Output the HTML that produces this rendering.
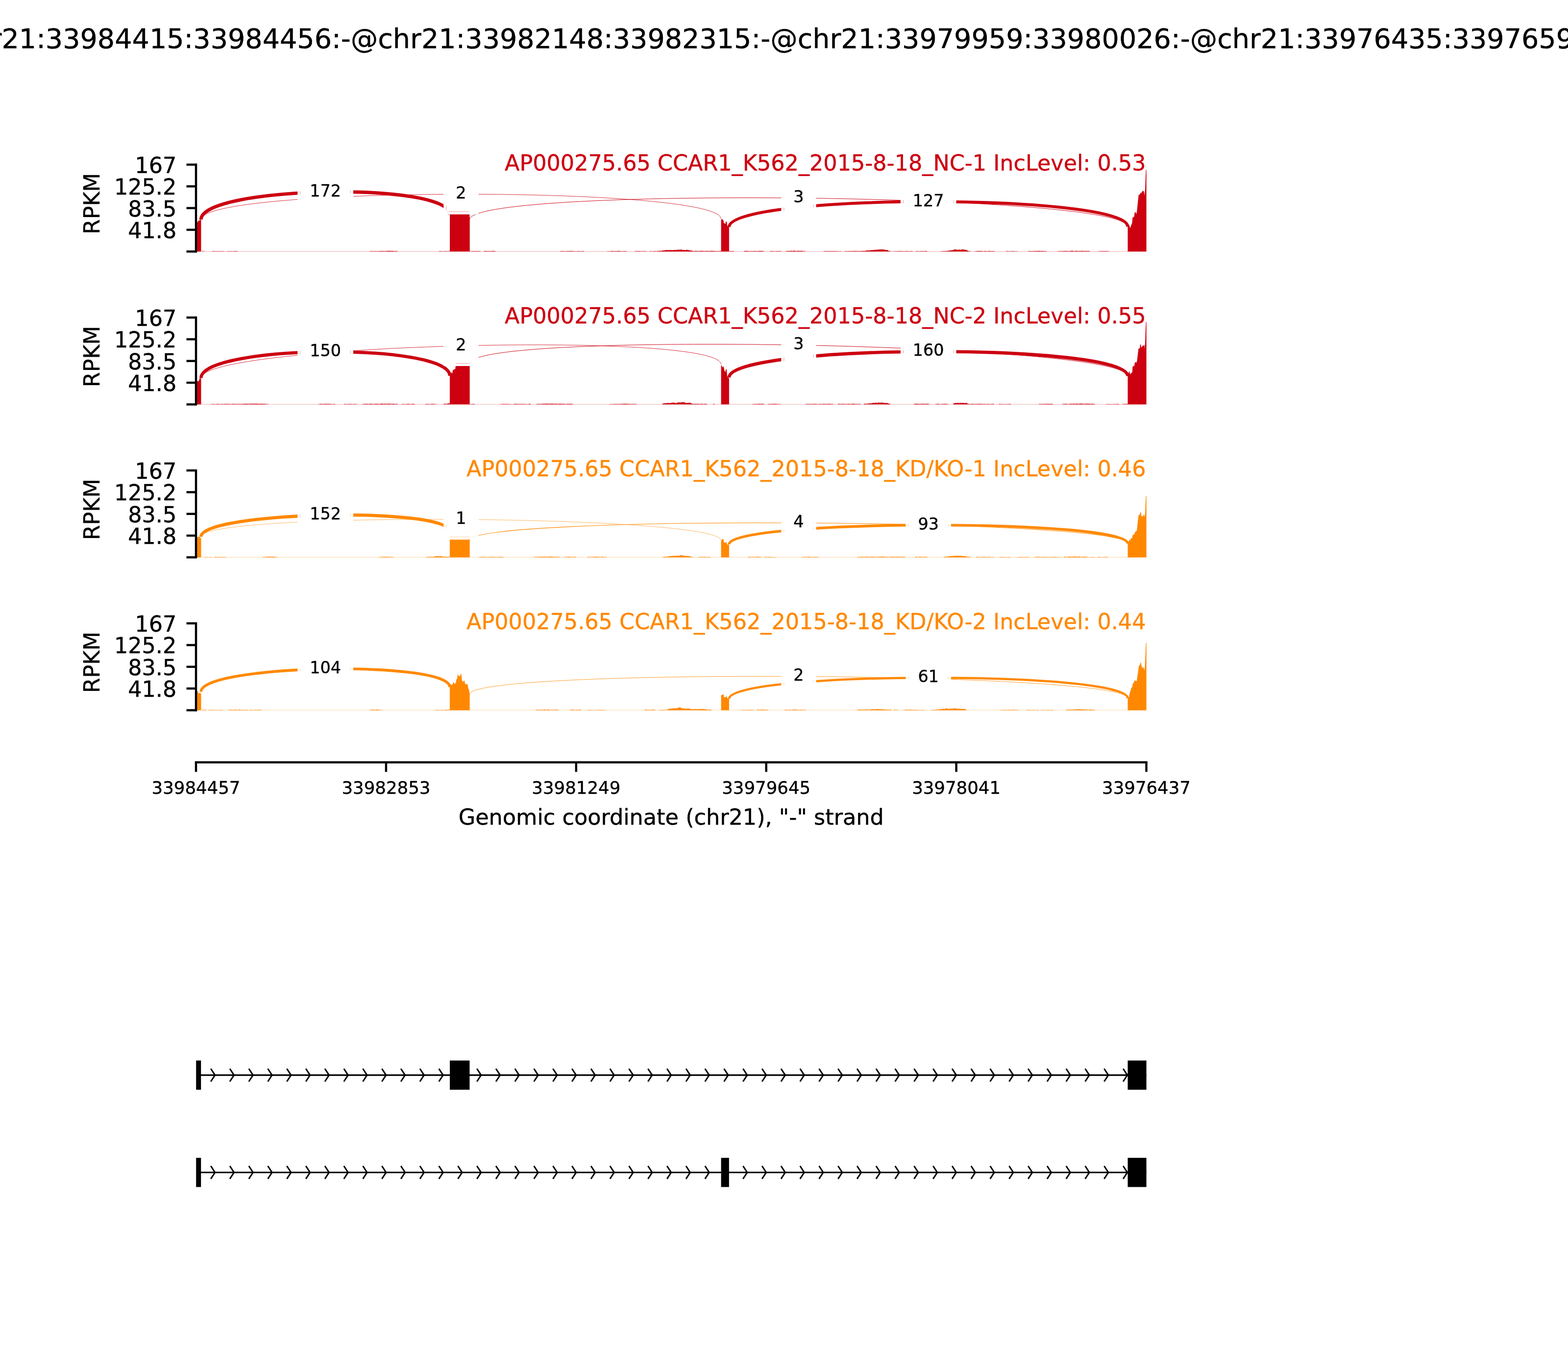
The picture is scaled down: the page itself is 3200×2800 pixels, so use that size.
<!DOCTYPE html>
<html lang="en"><head><meta charset="utf-8"><title>Sashimi plot</title>
<style>html,body{margin:0;padding:0;background:#fff}body{width:3200px;height:2800px;overflow:hidden}svg{display:block;font-family:'DejaVu Sans','Liberation Sans',sans-serif}text{stroke-linejoin:round}</style>
</head><body>
<svg width="3200" height="2800" viewBox="0 0 3200 2800" role="img" aria-label="Sashimi plot of RNA-seq read densities and splice junctions">
<rect width="3200" height="2800" fill="#fff"/>
<text transform="translate(1600 98.4) scale(1 1)" font-size="55.56" text-anchor="middle" fill="#000" stroke="#000" stroke-width="0.4">chr21:33984415:33984456:-@chr21:33982148:33982315:-@chr21:33979959:33980026:-@chr21:33976435:33976594:-</text>
<g id="panel1">
<g id="cov1">
<polygon points="400.2,513.3 400.2,455.5 402.3,454.3 404,451.5 405.5,449.9 406.7,450.6 407.7,448.7 409.6,448.7 410.4,449.5 410.4,513.3" fill="#CC0011"/>
<polygon points="918,513.3 918,438 918.8,428 957.6,428 958.7,446.5 958.7,513.3" fill="#CC0011"/>
<polygon points="1471.6,513.3 1471.6,447.9 1474.4,447.3 1475.4,449.2 1476.6,450 1477,453.9 1478.1,456.1 1480.9,456.3 1481.3,452.1 1482.8,452 1483.6,454.7 1484,460.2 1484.6,461.7 1485.2,463.1 1487.9,463.5 1487.9,513.3" fill="#CC0011"/>
<polygon points="2301.5,513.3 2301.5,462.7 2305,459.5 2306.2,465.8 2308.9,458.8 2310.5,454.8 2311.3,444.3 2314.4,442.3 2315.9,433 2318.3,433.8 2319.5,436.9 2320.6,427.5 2322.2,411.9 2323.8,397.8 2326.1,397 2327.7,393.1 2328.8,394.7 2330,392.3 2332.3,389.2 2334.7,390.8 2335.5,399.4 2337,386.9 2337.8,363.4 2338.6,347 2339.6,346.3 2339.6,513.3" fill="#CC0011"/>
<path d="M411.6,513.3V512.78 H415.6V512.84 H418V513.3Z M433,513.3V512.59 H437V512.82 H441V512.64 H445V512.7 H449V512.82 H453V512.65 H457V512.83 H458V513.3Z M463,513.3V512.68 H467V512.82 H471V512.81 H475V512.68 H479V512.52 H483V512.8 H486V513.3Z M753.6,513.3V512.81 H755.3V512.64 H757V512.5 H758.7V512.61 H760.4V512.66 H762.1V512.4 H763.8V512.77 H765.5V512.39 H767.2V512.62 H768.9V512.67 H770.6V512.67 H772.3V512.55 H774V512.27 H775.7V512.58 H777.4V512.34 H779.1V512.29 H780.8V512.38 H782.5V512.22 H784.2V512.48 H785.9V512.44 H787.6V512.3 H789.3V511.88 H791V512.02 H792.7V512.06 H794.4V511.8 H796.1V511.99 H797.8V512.19 H799.5V511.9 H801.2V512.06 H802.9V512.43 H804.6V512.31 H806.3V512.42 H808V512.34 H809.7V512.5 H811.4V512.73 H811.7V513.3Z M896,513.3V512.52 H900V512.8 H904V512.63 H908V512.42 H912V512.66 H916V512.45 H918V513.3Z M959.4,513.3V512.78 H963.4V512.53 H967.4V512.5 H971.4V512.6 H975.4V512.49 H979.4V512.72 H981V513.3Z M987.6,513.3V512.33 H991.6V512.39 H995.6V512.39 H999.6V512.46 H1003.6V512.26 H1007.6V512.21 H1010.9V513.3Z M1143,513.3V512.59 H1147V512.51 H1151V512.77 H1155V512.49 H1159V512.52 H1163V512.37 H1167V512.44 H1171V512.67 H1175V512.63 H1179V512.51 H1183V512.79 H1187V512.6 H1191V512.72 H1192.7V513.3Z M1239,513.3V512.72 H1243V512.71 H1247V512.3 H1251V512.59 H1255V512.48 H1259V512.37 H1263V512.16 H1267V512.65 H1271V512.51 H1275V512.53 H1279V513.3Z M1295.6,513.3V512.41 H1299.6V512.44 H1303.6V512.42 H1307.6V512.68 H1311.6V512.62 H1315.6V512.64 H1319.6V512.41 H1320.5V513.3Z M1325.5,513.3V512.54 H1327.2V512.79 H1328.9V512.75 H1330.6V512.69 H1332.3V512.65 H1334V512.49 H1335.7V512.39 H1337.4V512.52 H1339.1V512.63 H1340.8V512.35 H1342.5V512.34 H1344.2V512.17 H1345.9V511.8 H1347.6V511.87 H1349.3V511.91 H1351V511.17 H1352.7V510.99 H1354.4V511.31 H1356.1V510.53 H1357.8V510.47 H1359.5V510.24 H1361.2V510.16 H1362.9V510.4 H1364.6V510.35 H1366.3V510.6 H1368V510.03 H1369.7V510.56 H1371.4V510.52 H1373.1V510.33 H1374.8V510.31 H1376.5V509.97 H1378.2V510.17 H1379.9V510.11 H1381.6V509.79 H1383.3V509.72 H1385V509.33 H1386.7V509.9 H1388.4V508.96 H1390.1V509.43 H1391.8V510.11 H1393.5V510.12 H1395.2V510.11 H1396.9V510.15 H1398.6V510.47 H1400.3V509.79 H1402V509.73 H1403.7V510.31 H1405.4V510.49 H1407.1V511.06 H1408.8V511.25 H1410.5V511.3 H1412.2V512.14 H1413.9V511.89 H1415.6V512.38 H1417.3V512.48 H1419V511.84 H1420.7V512.13 H1422.4V512.39 H1424.1V512.12 H1425.8V512.47 H1427.5V512.13 H1429.2V511.82 H1430.9V511.9 H1432.6V512.01 H1434.3V512.31 H1436V512.24 H1437.7V512.38 H1439.4V511.96 H1441.1V512.14 H1442.8V511.99 H1444.5V512.3 H1446.2V512.38 H1447.9V512.01 H1449.6V511.92 H1451.3V512.02 H1453V512.06 H1454.7V512.07 H1456.4V512.13 H1458.1V512.46 H1459.8V512.3 H1461.5V512.41 H1463.2V512.61 H1464.9V512.62 H1466.6V512.48 H1468.3V512.5 H1470V512.26 H1471.6V513.3Z M1488,513.3V512.38 H1492V512.6 H1496V512.39 H1498V513.3Z M1518,513.3V512.15 H1522V512.1 H1526V512.39 H1530V512.43 H1534V512.38 H1538V512.36 H1542V512.4 H1546V512.19 H1550V512.09 H1554V512.2 H1558V512.44 H1559.6V513.3Z M1571,513.3V512.51 H1575V512.45 H1579V512.76 H1583V512.51 H1587V512.4 H1591V512.46 H1594.5V513.3Z M1604,513.3V512.28 H1605.7V512.37 H1607.4V512.5 H1609.1V512.09 H1610.8V512.32 H1612.5V511.96 H1614.2V511.78 H1615.9V512.15 H1617.6V512.1 H1619.3V511.61 H1621V511.74 H1622.7V512.16 H1624.4V512.21 H1626.1V512.23 H1627.8V511.68 H1629.5V511.81 H1631.2V512.35 H1632.9V511.91 H1634.6V511.87 H1636.3V512.14 H1638V512.38 H1639.7V512.31 H1641.4V512.59 H1643.1V512.68 H1644V513.3Z M1680.8,513.3V512.38 H1684.8V512.52 H1688.8V512.57 H1692.8V512.39 H1696.8V512.61 H1700.8V512.42 H1704.8V512.44 H1708.8V512.7 H1712.8V512.69 H1716.8V512.67 H1717V513.3Z M1723,513.3V512.69 H1724.7V512.52 H1726.4V512.65 H1728.1V512.56 H1729.8V512.68 H1731.5V512.29 H1733.2V512.54 H1734.9V512.48 H1736.6V512.39 H1738.3V512.21 H1740V512.45 H1741.7V512.16 H1743.4V512.37 H1745.1V512.34 H1746.8V512.32 H1748.5V512.6 H1750.2V512.34 H1751.9V512.48 H1753.6V512.58 H1755.3V512.07 H1757V512.45 H1758.7V512.24 H1760.4V511.99 H1762.1V512.02 H1763.8V512.12 H1765.5V511.89 H1767.2V511.22 H1768.9V510.95 H1770.6V511.32 H1772.3V510.88 H1774V511.01 H1775.7V510.89 H1777.4V510.36 H1779.1V510.48 H1780.8V510.32 H1782.5V509.99 H1784.2V509.65 H1785.9V509.97 H1787.6V509.62 H1789.3V509.57 H1791V509.39 H1792.7V508.99 H1794.4V509.14 H1796.1V509.05 H1797.8V509.29 H1799.5V508.87 H1801.2V509.35 H1802.9V509.32 H1804.6V509.44 H1806.3V510.33 H1808V510.19 H1809.7V510.2 H1811.4V510.76 H1813.1V512.25 H1814.8V512.5 H1816.5V512.6 H1818.2V512.93 H1819V513.3Z M1822.7,513.3V512.69 H1826.7V512.76 H1830.7V512.51 H1834.7V512.46 H1838.7V512.41 H1842.7V512.73 H1846.7V512.49 H1850.7V512.51 H1854.7V512.73 H1858.7V512.41 H1862.5V513.3Z M1869,513.3V512.38 H1873V512.7 H1877V512.38 H1881V512.62 H1885V512.59 H1889V512.37 H1892V513.3Z M1919,513.3V512.64 H1920.7V512.78 H1922.4V512.59 H1924.1V512.45 H1925.8V512.46 H1927.5V512.46 H1929.2V512.3 H1930.9V511.91 H1932.6V512.36 H1934.3V511.84 H1936V511.24 H1937.7V511.41 H1939.4V511.06 H1941.1V510.7 H1942.8V510.42 H1944.5V510.51 H1946.2V509.13 H1947.9V508.94 H1949.6V508.7 H1951.3V509.81 H1953V509.6 H1954.7V509.89 H1956.4V508.94 H1958.1V509.59 H1959.8V509.77 H1961.5V509.4 H1963.2V508.77 H1964.9V508.89 H1966.6V509.61 H1968.3V509.85 H1970V509.51 H1971.7V510.45 H1973.4V510.91 H1975.1V512.34 H1976.8V512.58 H1978.5V512.54 H1980.2V512.8 H1980.4V513.3Z M1988.7,513.3V512.66 H1992.7V512.21 H1996.7V512.37 H2000.7V512.28 H2004.7V512.65 H2008.7V512.25 H2012.7V512.66 H2016.7V512.25 H2020.7V512.46 H2024.7V512.52 H2028.7V512.41 H2030V513.3Z M2053,513.3V512.4 H2057V512.68 H2061V512.74 H2065V512.57 H2069V512.69 H2073V512.75 H2076.7V513.3Z M2098,513.3V512.58 H2102V512.59 H2106V512.44 H2110V512.3 H2114V512.24 H2118V511.95 H2122V512.35 H2126V512.28 H2130V512.54 H2134V512.5 H2136V513.3Z M2158,513.3V512.67 H2162V512.51 H2166V512.61 H2170V512.14 H2174V512.2 H2178V512.4 H2182V512.16 H2186V511.79 H2190V512.38 H2194V511.92 H2198V512.23 H2202V512.23 H2206V512.06 H2210V512.37 H2214V512.35 H2218V512.29 H2222V512.17 H2224V513.3Z M2241,513.3V512.65 H2245V512.44 H2249V512.49 H2253V512.52 H2257V512.62 H2261V512.65 H2264V513.3Z" fill="#CC0011"/>
<path d="M410.2,448.2 C410.2,379.8 918,369.6 918,438" fill="none" stroke="#CC0011" stroke-width="6.84"/>
<path d="M410.2,448.2 C410.2,379.8 1471.6,378.6 1471.6,447" fill="none" stroke="#CC0011" stroke-width="0.82"/>
<path d="M958.4,448.3 C958.4,379.9 2301.5,394.3 2301.5,462.7" fill="none" stroke="#CC0011" stroke-width="0.96"/>
<path d="M1487.8,463.5 C1487.8,394.83 2301.5,394.03 2301.5,462.7" fill="none" stroke="#CC0011" stroke-width="6.05"/>
</g>
<path d="M400,513.13 H2339.5" stroke="#CC0011" stroke-width="0.34" fill="none"/>
<rect x="607.3" y="350.6" width="113.6" height="82.4" fill="#fff"/>
<clipPath id="seam1_0"><path clip-rule="evenodd" d="M612.4,355.7 h103.4 v72.2 h-103.4 Z M613.4,356.7 h101.4 v70.2 h-101.4 Z"/></clipPath>
<use href="#cov1" clip-path="url(#seam1_0)" opacity="0.4"/>
<text transform="translate(664.1 400.75) scale(1 1)" font-size="33.33" text-anchor="middle" fill="#000" stroke="#000" stroke-width="0.4">172</text>
<rect x="905.3" y="355.1" width="71.2" height="82.4" fill="#fff"/>
<clipPath id="seam1_1"><path clip-rule="evenodd" d="M910.4,360.2 h61 v72.2 h-61 Z M911.4,361.2 h59 v70.2 h-59 Z"/></clipPath>
<use href="#cov1" clip-path="url(#seam1_1)" opacity="0.4"/>
<text transform="translate(940.9 405.25) scale(1 1)" font-size="33.33" text-anchor="middle" fill="#000" stroke="#000" stroke-width="0.4">2</text>
<rect x="1594.35" y="363" width="71.2" height="82.4" fill="#fff"/>
<clipPath id="seam1_2"><path clip-rule="evenodd" d="M1599.45,368.1 h61 v72.2 h-61 Z M1600.45,369.1 h59 v70.2 h-59 Z"/></clipPath>
<use href="#cov1" clip-path="url(#seam1_2)" opacity="0.4"/>
<text transform="translate(1629.95 413.15) scale(1 1)" font-size="33.33" text-anchor="middle" fill="#000" stroke="#000" stroke-width="0.4">3</text>
<rect x="1837.85" y="370.4" width="113.6" height="82.4" fill="#fff"/>
<clipPath id="seam1_3"><path clip-rule="evenodd" d="M1842.95,375.5 h103.4 v72.2 h-103.4 Z M1843.95,376.5 h101.4 v70.2 h-101.4 Z"/></clipPath>
<use href="#cov1" clip-path="url(#seam1_3)" opacity="0.4"/>
<text transform="translate(1894.65 420.55) scale(1 1)" font-size="33.33" text-anchor="middle" fill="#000" stroke="#000" stroke-width="0.4">127</text>
<text transform="translate(2338.5 348.3) scale(1 1)" font-size="44.48" text-anchor="end" fill="#CC0011" stroke="#CC0011" stroke-width="0.4">AP000275.65 CCAR1_K562_2015-8-18_NC-1 IncLevel: 0.53</text>
<path d="M400,333.78 V515.52" stroke="#000" stroke-width="4.44" fill="none"/>
<path d="M380.56,336 H400" stroke="#000" stroke-width="4.44" fill="none"/>
<text transform="translate(360.2 353) scale(1 1)" font-size="44.44" text-anchor="end" fill="#000" stroke="#000" stroke-width="0.4">167</text>
<path d="M380.56,380.32 H400" stroke="#000" stroke-width="4.44" fill="none"/>
<text transform="translate(360.2 397.32) scale(1 1)" font-size="44.44" text-anchor="end" fill="#000" stroke="#000" stroke-width="0.4">125.2</text>
<path d="M380.56,424.65 H400" stroke="#000" stroke-width="4.44" fill="none"/>
<text transform="translate(360.2 441.65) scale(1 1)" font-size="44.44" text-anchor="end" fill="#000" stroke="#000" stroke-width="0.4">83.5</text>
<path d="M380.56,468.98 H400" stroke="#000" stroke-width="4.44" fill="none"/>
<text transform="translate(360.2 485.98) scale(1 1)" font-size="44.44" text-anchor="end" fill="#000" stroke="#000" stroke-width="0.4">41.8</text>
<path d="M380.56,513.3 H400" stroke="#000" stroke-width="4.44" fill="none"/>
<text transform="translate(203.2 478.2) rotate(-90) scale(1 1)" font-size="44.44" fill="#000" stroke="#000" stroke-width="0.4">RPKM</text>
</g>
<g id="panel2">
<g id="cov2">
<polygon points="400.2,825.35 400.2,780.5 402,779.3 403.5,777.1 404.4,778.1 405.5,777.8 406.4,775.2 407.6,772.3 408.8,772 410.4,773.4 410.4,825.35" fill="#CC0011"/>
<polygon points="917.9,825.35 917.9,766.8 921.9,758.9 923,763.2 924.1,755.2 929.2,753 931,738 958.6,738 958.6,825.35" fill="#CC0011"/>
<polygon points="1471.6,825.35 1471.6,745.5 1473.4,746.4 1474.2,749.5 1475.8,749.1 1476.6,746 1477,749.9 1477.7,751.5 1478.5,756.5 1480.5,759.1 1481.3,754.2 1482.4,752.2 1483.2,757.3 1484,767.1 1485.2,770.2 1486.3,771.8 1487.9,770.6 1487.9,825.35" fill="#CC0011"/>
<polygon points="2301.5,825.35 2301.5,767.6 2304.2,758.3 2305.4,758.3 2306.2,764.9 2307.3,762.2 2308.9,761.4 2310.9,759 2311.3,749.3 2313.6,745.8 2314.4,748.9 2316.3,738.7 2317.5,740.3 2318.3,737.9 2319.5,741.1 2320.6,735.6 2322.2,722.3 2323.4,712.2 2324.5,710.2 2326.1,711.4 2326.9,702.8 2328.4,703.6 2329.2,709.8 2331.6,705.9 2333.9,705.1 2335.5,704.3 2335.6,712.9 2337,700.4 2337.8,675.4 2338.6,657.5 2339.6,656.7 2339.6,825.35" fill="#CC0011"/>
<path d="M430,825.35V824.82 H431.7V824.78 H433.4V824.8 H435.1V824.48 H436.8V824.7 H438.5V824.73 H440.2V824.76 H441.9V824.39 H443.6V824.36 H445.3V824.45 H447V824.63 H448.7V824.64 H450.4V824.6 H452.1V824.51 H453.8V824.66 H455.5V824.5 H457.2V824.58 H458.9V824.2 H460.6V824.18 H462.3V824.4 H464V824.56 H465.7V824.14 H467.4V824.5 H469.1V824.47 H470.8V824.67 H472.5V824.43 H474.2V824.37 H475.9V824.34 H477.6V824.51 H479.3V824.32 H481V824.62 H482.7V824.45 H484.4V824.55 H486.1V824.34 H487.8V824.57 H489.5V824.57 H491.2V824.38 H492.9V824.42 H494.6V824.17 H496.3V824.2 H498V824.03 H499.7V824.08 H501.4V824 H503.1V823.85 H504.8V824.18 H506.5V824.2 H508.2V823.65 H509.9V824.29 H511.6V823.79 H513.3V823.82 H515V824.31 H516.7V823.65 H518.4V823.64 H520.1V823.9 H521.8V823.84 H523.5V823.82 H525.2V824.36 H526.9V824.1 H528.6V824.15 H530.3V823.95 H532V824.01 H533.7V824.03 H535.4V824.22 H537.1V824.06 H538.8V824.22 H540.5V824.25 H542.2V824.55 H543.9V824.69 H545.6V824.65 H547.3V824.55 H548V825.35Z M649,825.35V824.77 H653V824.36 H657V824.43 H661V824.32 H665V824.28 H669V824.32 H673V824.49 H677V824.79 H681V824.47 H684V825.35Z M702,825.35V824.52 H706V824.63 H710V824.61 H714V824.56 H718V824.82 H722V824.53 H726V824.74 H729V825.35Z M739,825.35V824.7 H740.7V824.58 H742.4V824.31 H744.1V824.58 H745.8V824.26 H747.5V824.1 H749.2V824.36 H750.9V824.4 H752.6V824.33 H754.3V824.18 H756V824.1 H757.7V824.17 H759.4V824.14 H761.1V824.5 H762.8V824.44 H764.5V824.34 H766.2V823.97 H767.9V824.27 H769.6V824.06 H771.3V824.46 H773V824.41 H774.7V824.23 H776.4V823.89 H778.1V823.85 H779.8V823.84 H781.5V824.14 H783.2V823.93 H784.9V823.96 H786.6V823.95 H788.3V824.28 H790V823.68 H791.7V824.27 H793.4V823.71 H795.1V823.79 H796.8V824.5 H798.5V824.22 H800.2V824.02 H801.9V823.97 H803.6V824.34 H805.3V824.49 H807V824.56 H808.7V824.18 H810.4V824.62 H812V825.35Z M820,825.35V824.58 H824V824.75 H828V824.54 H832V824.29 H836V824.67 H840V824.28 H844V824.42 H846.5V825.35Z M868,825.35V824.44 H872V824.48 H876V824.67 H880V824.3 H884V824.47 H888V824.69 H891V825.35Z M904.6,825.35V824.52 H906.3V824.12 H908V824.1 H909.7V824.17 H911.4V824.25 H913.1V823.43 H914.8V823.38 H916.5V822.95 H918V825.35Z M959.4,825.35V824.85 H963.4V824.52 H967.4V824.48 H969V825.35Z M1021,825.35V824.79 H1025V824.45 H1029V824.54 H1033V824.46 H1037V824.72 H1041V824.69 H1044V825.35Z M1047,825.35V824.54 H1051V824.21 H1055V824.42 H1059V824.53 H1063V824.49 H1067V824.56 H1071V824.68 H1075V824.65 H1079V824.23 H1083V825.35Z M1095,825.35V824.58 H1096.7V824.19 H1098.4V824.54 H1100.1V824.5 H1101.8V824.32 H1103.5V824.49 H1105.2V824.34 H1106.9V823.92 H1108.6V823.92 H1110.3V823.93 H1112V824.02 H1113.7V823.77 H1115.4V823.7 H1117.1V823.97 H1118.8V823.8 H1120.5V824.32 H1122.2V823.71 H1123.9V823.97 H1125.6V823.73 H1127.3V823.85 H1129V824.16 H1130.7V824.37 H1132.4V823.68 H1134.1V824.33 H1135.8V824.08 H1137.5V824.2 H1139.2V824.25 H1140.9V823.94 H1142.6V823.78 H1144.3V824.32 H1146V824.06 H1147.7V824.33 H1149.4V824.17 H1151.1V824.3 H1152.8V824.46 H1154.5V824.48 H1156.2V824.47 H1157.9V824.04 H1159.6V824.32 H1161.3V824.5 H1163V824.11 H1164.7V824.08 H1166.4V824.42 H1168.1V824.61 H1169.5V825.35Z M1244,825.35V824.63 H1248V824.65 H1252V824.47 H1256V824.58 H1260V824.45 H1264V824.4 H1268V824.15 H1272V823.98 H1276V824.12 H1280V824.37 H1284V824.41 H1288V824.38 H1292V824.5 H1296V824.56 H1299V825.35Z M1352,825.35V823.58 H1353.7V823.31 H1355.4V822.68 H1357.1V823.2 H1358.8V822.77 H1360.5V822.54 H1362.2V822.19 H1363.9V822.66 H1365.6V822.49 H1367.3V822.4 H1369V822.12 H1370.7V821.94 H1372.4V821.43 H1374.1V821.66 H1375.8V821.76 H1377.5V822.72 H1379.2V822.79 H1380.9V821.82 H1382.6V821.29 H1384.3V821.49 H1386V821.04 H1387.7V821.58 H1389.4V821.16 H1391.1V820.6 H1392.8V820.92 H1394.5V821.06 H1396.2V821.11 H1397.9V822.11 H1399.6V822.39 H1401.3V822.42 H1403V822.11 H1404.7V822.03 H1406.4V821.86 H1408.1V822.33 H1409.8V823.11 H1411.5V824.02 H1413.2V824.23 H1414.9V824.17 H1416.6V824.53 H1418.3V824.02 H1420V824.4 H1421.7V823.94 H1423.4V824.13 H1425.1V824.36 H1426.8V824.48 H1428.5V824.4 H1430.2V824.15 H1431.9V824.11 H1433.6V824.51 H1435.3V824.54 H1437V824.24 H1438.7V824.21 H1440.4V824.34 H1442.1V824.45 H1443V825.35Z M1455,825.35V824.59 H1459V825.35Z M1534.7,825.35V824.74 H1538.7V824.57 H1542.7V824.48 H1546.7V824.2 H1550.7V824.35 H1554.7V824.21 H1558.7V824.43 H1559.6V825.35Z M1568,825.35V824.62 H1572V824.6 H1576V824.21 H1580V824.33 H1584V824.54 H1588V824.69 H1592V824.42 H1593V825.35Z M1644,825.35V824.39 H1648V824.52 H1652V824.6 H1656V824.38 H1660V824.24 H1664V824.6 H1668V824.7 H1672V824.54 H1676V824.49 H1680V824.34 H1684V824.6 H1688V824.26 H1692V824.29 H1696V824.41 H1700V824.58 H1700.7V825.35Z M1710,825.35V824.14 H1714V824.5 H1718V824.2 H1722V824.53 H1726V824.52 H1730V824.19 H1734V824.46 H1738V824.04 H1742V824.31 H1746V824.49 H1750V824.46 H1754V824.33 H1756V825.35Z M1763,825.35V824.12 H1764.7V823.83 H1766.4V824.34 H1768.1V824.08 H1769.8V824.16 H1771.5V822.92 H1773.2V823.38 H1774.9V823.35 H1776.6V823.25 H1778.3V822.88 H1780V822.35 H1781.7V822.23 H1783.4V822.25 H1785.1V821.88 H1786.8V821.8 H1788.5V822.28 H1790.2V822.31 H1791.9V821.36 H1793.6V821.43 H1795.3V822.16 H1797V821.26 H1798.7V821.52 H1800.4V821.69 H1802.1V821.9 H1803.8V822.24 H1805.5V822.57 H1807.2V822.44 H1808.9V822.57 H1810.6V822.48 H1812.3V823.51 H1814V823.8 H1815.7V824.59 H1817.4V824.67 H1817.7V825.35Z M1865.8,825.35V824.09 H1869.8V823.97 H1873.8V824.14 H1877.8V824.36 H1881.8V824.08 H1885.8V824.24 H1889.8V823.94 H1893.8V824.5 H1897.4V825.35Z M1909,825.35V824.55 H1913V824.26 H1917V824.71 H1921V824.5 H1925V824.27 H1929V824.28 H1933V824.67 H1935.6V825.35Z M1945.5,825.35V822.96 H1947.2V822.92 H1948.9V822.12 H1950.6V822.71 H1952.3V822.23 H1954V822.07 H1955.7V822.58 H1957.4V822.62 H1959.1V821.95 H1960.8V822.26 H1962.5V822.58 H1964.2V822.12 H1965.9V822.49 H1967.6V822.51 H1969.3V822.76 H1971V822 H1972.7V822.77 H1974.4V824.28 H1976.1V824.17 H1977.8V824.68 H1979.5V824.57 H1981.2V824.44 H1982.9V824.17 H1984.6V824.18 H1986.3V824.49 H1988V824.57 H1989.7V824.47 H1991.4V824.44 H1993.1V824.21 H1994.8V824.61 H1996.5V824.28 H1998.2V824.32 H1999.9V824.27 H2001.6V824.3 H2003.3V824.4 H2005V824.55 H2006.7V824.55 H2008.4V824.53 H2010.1V824.31 H2011.8V824.69 H2013.5V824.63 H2015.2V824.34 H2016.9V824.6 H2018.6V824.7 H2020.3V824.72 H2022V824.45 H2023.7V824.57 H2025.4V824.23 H2027.1V824.29 H2028.5V825.35Z M2038.5,825.35V824.42 H2042.5V824.73 H2046.5V824.81 H2050.5V824.8 H2054.5V824.63 H2058.5V824.54 H2062.5V824.65 H2063.4V825.35Z M2119.8,825.35V824.62 H2123.8V824.52 H2127.8V824.4 H2131.8V824.36 H2135.8V824.31 H2139.8V824.24 H2143.8V824.33 H2147.8V824.63 H2149.7V825.35Z M2168,825.35V824.13 H2169.7V824.44 H2171.4V824.26 H2173.1V824.36 H2174.8V824.11 H2176.5V824.45 H2178.2V824.4 H2179.9V824.39 H2181.6V824.44 H2183.3V823.91 H2185V824.11 H2186.7V824.27 H2188.4V824.2 H2190.1V823.75 H2191.8V824.09 H2193.5V824.28 H2195.2V823.82 H2196.9V823.92 H2198.6V823.64 H2200.3V824.33 H2202V824.01 H2203.7V823.71 H2205.4V823.67 H2207.1V823.59 H2208.8V824.32 H2210.5V824.09 H2212.2V824.27 H2213.9V824.23 H2215.6V823.63 H2217.3V823.98 H2219V823.74 H2220.7V824.2 H2222.4V823.87 H2224.1V824.2 H2225.8V824.36 H2227.5V824.04 H2229.2V823.97 H2230.9V824.54 H2232.6V824.27 H2234.3V824.27 H2234.4V825.35Z M2257.6,825.35V824.75 H2261.6V824.69 H2265.6V824.78 H2269.6V824.76 H2273.6V824.74 H2277.6V824.59 H2281.6V824.56 H2284V825.35Z M2290.8,825.35V824.5 H2294.8V824.58 H2298.8V824.33 H2301.4V825.35Z" fill="#CC0011"/>
<path d="M410.2,771.7 C410.2,703.23 918,698.53 918,767" fill="none" stroke="#CC0011" stroke-width="6.47"/>
<path d="M410.2,771.7 C410.2,702.3 1471.6,674.6 1471.6,744" fill="none" stroke="#CC0011" stroke-width="0.82"/>
<path d="M958.4,742 C958.4,674.67 2301.5,700.27 2301.5,767.6" fill="none" stroke="#CC0011" stroke-width="0.96"/>
<path d="M1487.8,770.5 C1487.8,701.77 2301.5,698.87 2301.5,767.6" fill="none" stroke="#CC0011" stroke-width="6.64"/>
</g>
<path d="M400,825.18 H2339.5" stroke="#CC0011" stroke-width="0.34" fill="none"/>
<rect x="607.3" y="676.8" width="113.6" height="82.4" fill="#fff"/>
<clipPath id="seam2_0"><path clip-rule="evenodd" d="M612.4,681.9 h103.4 v72.2 h-103.4 Z M613.4,682.9 h101.4 v70.2 h-101.4 Z"/></clipPath>
<use href="#cov2" clip-path="url(#seam2_0)" opacity="0.4"/>
<text transform="translate(664.1 726.95) scale(1 1)" font-size="33.33" text-anchor="middle" fill="#000" stroke="#000" stroke-width="0.4">150</text>
<rect x="905.3" y="664.6" width="71.2" height="82.4" fill="#fff"/>
<clipPath id="seam2_1"><path clip-rule="evenodd" d="M910.4,669.7 h61 v72.2 h-61 Z M911.4,670.7 h59 v70.2 h-59 Z"/></clipPath>
<use href="#cov2" clip-path="url(#seam2_1)" opacity="0.4"/>
<text transform="translate(940.9 714.75) scale(1 1)" font-size="33.33" text-anchor="middle" fill="#000" stroke="#000" stroke-width="0.4">2</text>
<rect x="1594.35" y="663.1" width="71.2" height="82.4" fill="#fff"/>
<clipPath id="seam2_2"><path clip-rule="evenodd" d="M1599.45,668.2 h61 v72.2 h-61 Z M1600.45,669.2 h59 v70.2 h-59 Z"/></clipPath>
<use href="#cov2" clip-path="url(#seam2_2)" opacity="0.4"/>
<text transform="translate(1629.95 713.25) scale(1 1)" font-size="33.33" text-anchor="middle" fill="#000" stroke="#000" stroke-width="0.4">3</text>
<rect x="1837.85" y="676.3" width="113.6" height="82.4" fill="#fff"/>
<clipPath id="seam2_3"><path clip-rule="evenodd" d="M1842.95,681.4 h103.4 v72.2 h-103.4 Z M1843.95,682.4 h101.4 v70.2 h-101.4 Z"/></clipPath>
<use href="#cov2" clip-path="url(#seam2_3)" opacity="0.4"/>
<text transform="translate(1894.65 726.45) scale(1 1)" font-size="33.33" text-anchor="middle" fill="#000" stroke="#000" stroke-width="0.4">160</text>
<text transform="translate(2338.5 660.35) scale(1 1)" font-size="44.48" text-anchor="end" fill="#CC0011" stroke="#CC0011" stroke-width="0.4">AP000275.65 CCAR1_K562_2015-8-18_NC-2 IncLevel: 0.55</text>
<path d="M400,645.83 V827.57" stroke="#000" stroke-width="4.44" fill="none"/>
<path d="M380.56,648.05 H400" stroke="#000" stroke-width="4.44" fill="none"/>
<text transform="translate(360.2 665.05) scale(1 1)" font-size="44.44" text-anchor="end" fill="#000" stroke="#000" stroke-width="0.4">167</text>
<path d="M380.56,692.38 H400" stroke="#000" stroke-width="4.44" fill="none"/>
<text transform="translate(360.2 709.38) scale(1 1)" font-size="44.44" text-anchor="end" fill="#000" stroke="#000" stroke-width="0.4">125.2</text>
<path d="M380.56,736.7 H400" stroke="#000" stroke-width="4.44" fill="none"/>
<text transform="translate(360.2 753.7) scale(1 1)" font-size="44.44" text-anchor="end" fill="#000" stroke="#000" stroke-width="0.4">83.5</text>
<path d="M380.56,781.02 H400" stroke="#000" stroke-width="4.44" fill="none"/>
<text transform="translate(360.2 798.02) scale(1 1)" font-size="44.44" text-anchor="end" fill="#000" stroke="#000" stroke-width="0.4">41.8</text>
<path d="M380.56,825.35 H400" stroke="#000" stroke-width="4.44" fill="none"/>
<text transform="translate(203.2 790.25) rotate(-90) scale(1 1)" font-size="44.44" fill="#000" stroke="#000" stroke-width="0.4">RPKM</text>
</g>
<g id="panel3">
<g id="cov3">
<polygon points="400.2,1137.4 400.2,1098.5 402,1097.3 403.5,1094.9 404.4,1095.9 407.3,1095.8 409.1,1097.9 410.4,1098.4 410.4,1137.4" fill="#FF8800"/>
<polygon points="917.9,1137.4 917.9,1094 958.6,1094 958.6,1137.4" fill="#FF8800"/>
<polygon points="1471.6,1137.4 1471.6,1103.3 1474.6,1100 1476.6,1100.2 1477,1106.1 1479.3,1107.9 1482.4,1106.1 1484,1111.6 1486.7,1111.8 1487.9,1111 1487.9,1137.4" fill="#FF8800"/>
<polygon points="2301.5,1137.4 2301.5,1109.4 2303.4,1106.3 2304.6,1101.2 2305.4,1101.2 2306.6,1103.9 2307.3,1099.2 2310.5,1097.7 2311.3,1092.6 2315.2,1089.8 2316.3,1085.9 2319.8,1083.2 2320.6,1078.1 2322.2,1062.5 2323.8,1050.8 2326.1,1050.4 2326.9,1045.7 2328.4,1045.3 2329.2,1053.1 2331.6,1053.9 2333.9,1051.6 2334.7,1049.2 2335.6,1055.5 2337,1048.4 2337.8,1027.3 2338.6,1012.5 2339.6,1011.3 2339.6,1137.4" fill="#FF8800"/>
<path d="M418,1137.4V1136.76 H422V1136.93 H426V1136.89 H430V1136.93 H433V1137.4Z M438,1137.4V1136.55 H442V1136.66 H446V1136.87 H450V1136.85 H454V1136.73 H458V1136.66 H461.4V1137.4Z M536,1137.4V1136.58 H537.7V1136.76 H539.4V1136.66 H541.1V1136.28 H542.8V1136.37 H544.5V1136.38 H546.2V1136.29 H547.9V1135.71 H549.6V1136.15 H551.3V1135.96 H553V1136.21 H554.7V1136.24 H556.4V1136.01 H558.1V1136.03 H559.8V1136.5 H561.5V1136.67 H563.2V1136.48 H564.9V1136.79 H566V1137.4Z M773.5,1137.4V1136.87 H777.5V1136.4 H781.5V1136.57 H785.5V1136.29 H789.5V1136.56 H793.5V1136.38 H797.5V1136.64 H801.5V1136.82 H803.4V1137.4Z M868,1137.4V1136.97 H869.7V1136.69 H871.4V1136.58 H873.1V1136.36 H874.8V1136.72 H876.5V1136.35 H878.2V1136.43 H879.9V1136.27 H881.6V1136.45 H883.3V1136.29 H885V1136.04 H886.7V1135.62 H888.4V1135.62 H890.1V1135.32 H891.8V1135.05 H893.5V1134.88 H895.2V1135.38 H896.9V1135.38 H898.6V1134.88 H900.3V1134.97 H902V1135.41 H903.7V1136.4 H905.4V1135.78 H907.1V1136.27 H908.8V1135.98 H910.5V1136.25 H912.2V1136.19 H913.9V1136.63 H915.6V1136.33 H917.3V1136.67 H918V1137.4Z M977.7,1137.4V1136.7 H981.7V1136.46 H985.7V1136.42 H989.7V1136.71 H993.7V1136.66 H997.7V1136.52 H1001.7V1136.48 H1005.7V1136.59 H1009.7V1136.75 H1013.7V1136.71 H1017.7V1136.51 H1021.7V1136.47 H1025.7V1136.87 H1027.5V1137.4Z M1089.8,1137.4V1136.49 H1091.5V1136.35 H1093.2V1136.72 H1094.9V1136.23 H1096.6V1136.63 H1098.3V1136.3 H1100V1136.3 H1101.7V1136.22 H1103.4V1136.4 H1105.1V1136.3 H1106.8V1136.15 H1108.5V1136.23 H1110.2V1136.03 H1111.9V1136.16 H1113.6V1136.13 H1115.3V1136.44 H1117V1135.92 H1118.7V1136 H1120.4V1136.19 H1122.1V1135.78 H1123.8V1135.81 H1125.5V1136.11 H1127.2V1136.36 H1128.9V1136.18 H1130.6V1136.48 H1132.3V1136.49 H1134V1136.32 H1135.7V1136.58 H1137.4V1136.39 H1139.1V1136.39 H1140.8V1136.7 H1142.5V1136.38 H1143V1137.4Z M1151,1137.4V1136.75 H1155V1136.4 H1159V1136.36 H1163V1136.49 H1167V1136.73 H1171V1136.47 H1175V1136.53 H1176V1137.4Z M1199,1137.4V1136.46 H1203V1136.78 H1207V1136.39 H1211V1136.26 H1215V1136.35 H1219V1136.33 H1223V1136.7 H1227V1136.35 H1231V1136.63 H1235V1136.47 H1237.5V1137.4Z M1352,1137.4V1136.43 H1353.7V1136.69 H1355.4V1136.23 H1357.1V1136.01 H1358.8V1136.5 H1360.5V1136.19 H1362.2V1135.74 H1363.9V1135.49 H1365.6V1134.81 H1367.3V1135.13 H1369V1134.55 H1370.7V1134.99 H1372.4V1134.56 H1374.1V1134.03 H1375.8V1134.59 H1377.5V1134.42 H1379.2V1134.04 H1380.9V1134.12 H1382.6V1134.32 H1384.3V1134.04 H1386V1133.95 H1387.7V1132.85 H1389.4V1133.33 H1391.1V1133.24 H1392.8V1134.24 H1394.5V1133.71 H1396.2V1134.57 H1397.9V1134.3 H1399.6V1134.36 H1401.3V1134.76 H1403V1134.48 H1404.7V1134.95 H1406.4V1135.24 H1408.1V1135.8 H1409.8V1136.57 H1411.5V1136.28 H1413.2V1136.6 H1413.5V1137.4Z M1425,1137.4V1136.73 H1429V1136.55 H1433V1136.78 H1437V1136.47 H1441V1136.65 H1445V1136.74 H1449V1136.57 H1450V1137.4Z M1526.4,1137.4V1136.56 H1530.4V1136.69 H1534.4V1136.38 H1538.4V1136.74 H1542.4V1136.31 H1546.4V1136.61 H1550.4V1136.39 H1553V1137.4Z M1559.6,1137.4V1136.47 H1563.6V1136.64 H1567.6V1136.61 H1571.6V1136.76 H1575.6V1136.9 H1579.6V1136.88 H1583.6V1136.83 H1584.5V1137.4Z M1637.6,1137.4V1136.6 H1641.6V1136.64 H1645.6V1136.55 H1649.6V1136.29 H1653.6V1136.68 H1657.6V1136.67 H1661.6V1136.51 H1665.6V1136.86 H1669.6V1136.89 H1670.8V1137.4Z M1660,1137.4V1136.74 H1664V1136.85 H1668V1136.74 H1671.6V1137.4Z M1749.6,1137.4V1136.61 H1753.6V1136.38 H1757.6V1136.36 H1761.6V1136.57 H1765.6V1136.29 H1769.6V1136.36 H1773.6V1136.56 H1777.6V1136.02 H1781.6V1136.45 H1785.6V1136.5 H1789.6V1136.53 H1793.6V1136.18 H1797.6V1136.04 H1801.6V1136.11 H1805.6V1136.38 H1809.6V1136.48 H1813.6V1136.65 H1817.6V1136.27 H1821.6V1136.34 H1825.6V1136.48 H1829.6V1136.32 H1833.6V1136.45 H1837.6V1136.18 H1841.6V1136.32 H1845.6V1136.6 H1847.6V1137.4Z M1867.5,1137.4V1136.14 H1871.5V1136.66 H1875.5V1136.34 H1879.5V1136.41 H1883.5V1136.51 H1887.5V1136.61 H1891.5V1136.14 H1892.4V1137.4Z M1925.6,1137.4V1136.85 H1927.3V1136.47 H1929V1136.1 H1930.7V1136.5 H1932.4V1136.36 H1934.1V1135.91 H1935.8V1135.28 H1937.5V1135.02 H1939.2V1134.7 H1940.9V1135.05 H1942.6V1134.78 H1944.3V1134.62 H1946V1134.83 H1947.7V1134.03 H1949.4V1134.13 H1951.1V1134.19 H1952.8V1134.87 H1954.5V1134.07 H1956.2V1134.16 H1957.9V1134.43 H1959.6V1134.17 H1961.3V1134.45 H1963V1134.66 H1964.7V1134.78 H1966.4V1134.66 H1968.1V1134.88 H1969.8V1135.09 H1971.5V1135.82 H1973.2V1136.21 H1974.9V1136.2 H1976.6V1136.37 H1978.3V1136.67 H1980V1136.61 H1981.7V1136.7 H1982V1137.4Z M1992,1137.4V1136.56 H1996V1136.67 H2000V1136.78 H2004V1136.62 H2008V1136.48 H2012V1136.8 H2016V1136.52 H2020V1136.89 H2024V1136.78 H2028V1136.79 H2028.5V1137.4Z M2040,1137.4V1136.74 H2044V1136.67 H2048V1136.74 H2052V1136.88 H2056V1136.69 H2060V1136.88 H2063.4V1137.4Z M2075,1137.4V1136.91 H2079V1136.68 H2083V1136.78 H2087V1136.76 H2091V1136.77 H2095V1136.66 H2099V1136.83 H2100V1137.4Z M2111.5,1137.4V1136.53 H2115.5V1136.59 H2119.5V1136.53 H2123.5V1136.71 H2127.5V1136.58 H2131.5V1136.65 H2135.5V1136.76 H2139.5V1136.8 H2143.5V1136.63 H2147.5V1136.86 H2151.5V1136.5 H2155.5V1136.83 H2159.5V1136.88 H2163.5V1136.85 H2164.6V1137.4Z M2171.3,1137.4V1136.11 H2173V1136.43 H2174.7V1136.53 H2176.4V1136.58 H2178.1V1136.54 H2179.8V1136.03 H2181.5V1136.04 H2183.2V1135.94 H2184.9V1135.87 H2186.6V1136.38 H2188.3V1135.9 H2190V1136.09 H2191.7V1135.73 H2193.4V1135.76 H2195.1V1135.73 H2196.8V1136.42 H2198.5V1135.81 H2200.2V1135.8 H2201.9V1135.81 H2203.6V1136.46 H2205.3V1136.41 H2207V1136.5 H2208.7V1136.57 H2210.4V1136.04 H2212.1V1136.09 H2213.8V1136.24 H2215.5V1136.14 H2217.2V1136.29 H2218.9V1136.52 H2219.4V1137.4Z M2221,1137.4V1136.96 H2225V1136.96 H2229V1136.74 H2233V1136.93 H2234V1137.4Z M2239,1137.4V1136.76 H2243V1136.71 H2247V1136.89 H2251V1136.79 H2255V1136.77 H2259V1136.59 H2261V1137.4Z" fill="#FF8800"/>
<path d="M410.2,1095.5 C410.2,1043.7 918,1033.2 918,1085" fill="none" stroke="#FF8800" stroke-width="6.51"/>
<path d="M410.2,1095.5 C410.2,1043.3 1471.6,1050.8 1471.6,1103" fill="none" stroke="#FF8800" stroke-width="0.62"/>
<path d="M958.4,1102.7 C958.4,1050.9 2301.5,1057.6 2301.5,1109.4" fill="none" stroke="#FF8800" stroke-width="1.08"/>
<path d="M1487.8,1111 C1487.8,1059.67 2301.5,1058.07 2301.5,1109.4" fill="none" stroke="#FF8800" stroke-width="5.34"/>
</g>
<path d="M400,1137.23 H2339.5" stroke="#FF8800" stroke-width="0.34" fill="none"/>
<rect x="607.3" y="1010.2" width="113.6" height="82.4" fill="#fff"/>
<clipPath id="seam3_0"><path clip-rule="evenodd" d="M612.4,1015.3 h103.4 v72.2 h-103.4 Z M613.4,1016.3 h101.4 v70.2 h-101.4 Z"/></clipPath>
<use href="#cov3" clip-path="url(#seam3_0)" opacity="0.4"/>
<text transform="translate(664.1 1060.35) scale(1 1)" font-size="33.33" text-anchor="middle" fill="#000" stroke="#000" stroke-width="0.4">152</text>
<rect x="905.3" y="1018.9" width="71.2" height="82.4" fill="#fff"/>
<clipPath id="seam3_1"><path clip-rule="evenodd" d="M910.4,1024 h61 v72.2 h-61 Z M911.4,1025 h59 v70.2 h-59 Z"/></clipPath>
<use href="#cov3" clip-path="url(#seam3_1)" opacity="0.4"/>
<text transform="translate(940.9 1069.05) scale(1 1)" font-size="33.33" text-anchor="middle" fill="#000" stroke="#000" stroke-width="0.4">1</text>
<rect x="1594.35" y="1026" width="71.2" height="82.4" fill="#fff"/>
<clipPath id="seam3_2"><path clip-rule="evenodd" d="M1599.45,1031.1 h61 v72.2 h-61 Z M1600.45,1032.1 h59 v70.2 h-59 Z"/></clipPath>
<use href="#cov3" clip-path="url(#seam3_2)" opacity="0.4"/>
<text transform="translate(1629.95 1076.15) scale(1 1)" font-size="33.33" text-anchor="middle" fill="#000" stroke="#000" stroke-width="0.4">4</text>
<rect x="1848.45" y="1030.5" width="92.4" height="82.4" fill="#fff"/>
<clipPath id="seam3_3"><path clip-rule="evenodd" d="M1853.55,1035.6 h82.2 v72.2 h-82.2 Z M1854.55,1036.6 h80.2 v70.2 h-80.2 Z"/></clipPath>
<use href="#cov3" clip-path="url(#seam3_3)" opacity="0.4"/>
<text transform="translate(1894.65 1080.65) scale(1 1)" font-size="33.33" text-anchor="middle" fill="#000" stroke="#000" stroke-width="0.4">93</text>
<text transform="translate(2338.5 972.4) scale(1 1)" font-size="44.5" text-anchor="end" fill="#FF8800" stroke="#FF8800" stroke-width="0.4">AP000275.65 CCAR1_K562_2015-8-18_KD/KO-1 IncLevel: 0.46</text>
<path d="M400,957.88 V1139.62" stroke="#000" stroke-width="4.44" fill="none"/>
<path d="M380.56,960.1 H400" stroke="#000" stroke-width="4.44" fill="none"/>
<text transform="translate(360.2 977.1) scale(1 1)" font-size="44.44" text-anchor="end" fill="#000" stroke="#000" stroke-width="0.4">167</text>
<path d="M380.56,1004.43 H400" stroke="#000" stroke-width="4.44" fill="none"/>
<text transform="translate(360.2 1021.43) scale(1 1)" font-size="44.44" text-anchor="end" fill="#000" stroke="#000" stroke-width="0.4">125.2</text>
<path d="M380.56,1048.75 H400" stroke="#000" stroke-width="4.44" fill="none"/>
<text transform="translate(360.2 1065.75) scale(1 1)" font-size="44.44" text-anchor="end" fill="#000" stroke="#000" stroke-width="0.4">83.5</text>
<path d="M380.56,1093.08 H400" stroke="#000" stroke-width="4.44" fill="none"/>
<text transform="translate(360.2 1110.08) scale(1 1)" font-size="44.44" text-anchor="end" fill="#000" stroke="#000" stroke-width="0.4">41.8</text>
<path d="M380.56,1137.4 H400" stroke="#000" stroke-width="4.44" fill="none"/>
<text transform="translate(203.2 1102.3) rotate(-90) scale(1 1)" font-size="44.44" fill="#000" stroke="#000" stroke-width="0.4">RPKM</text>
</g>
<g id="panel4">
<g id="cov4">
<polygon points="400.2,1449.45 400.2,1412.5 402,1411.4 403.5,1409.9 405.3,1415.2 407.9,1414 409.6,1414.9 410.4,1416.4 410.4,1449.45" fill="#FF8800"/>
<polygon points="917.9,1449.45 917.9,1402.4 919,1397.3 921.2,1396.2 922.3,1398.8 923.7,1395.9 925.6,1391.9 927,1394.4 928.5,1396.2 929.5,1393.3 930.6,1393 931,1387.5 933.2,1384.3 933.9,1376.3 934.6,1375.9 935.4,1379.2 937.5,1379.5 939,1380.6 940.1,1375.6 941.2,1375.2 942.2,1380.6 942.6,1387.9 945.2,1391.9 946.2,1389.3 947.7,1389.3 949.5,1395.9 954.2,1396.2 955.3,1402.4 957.5,1409.7 958.6,1416.9 958.6,1449.45" fill="#FF8800"/>
<polygon points="1471.6,1449.45 1471.6,1419.1 1472.7,1419.1 1474.6,1417.2 1476.6,1417 1477,1420.3 1477.7,1423 1479.3,1422.3 1480.5,1423.6 1481.6,1421.3 1482.8,1421.3 1484.4,1424.6 1485.5,1425.8 1487.9,1426.6 1487.9,1449.45" fill="#FF8800"/>
<polygon points="2301.5,1449.45 2301.5,1425 2304.2,1421.9 2305,1416.4 2307,1410.2 2308.9,1403.9 2310.9,1401.6 2311.3,1396.9 2313.6,1393 2315.2,1389.8 2316.3,1387.9 2318.3,1390.2 2319.8,1389.8 2320.6,1384.4 2322.2,1374.2 2323.4,1364.1 2324.5,1358.2 2326.1,1357.8 2326.9,1353.9 2328.4,1352 2329.2,1357 2331.2,1364.1 2332.3,1360.5 2334.7,1364.8 2335.5,1368.8 2336.6,1359.4 2337.8,1331.3 2338.6,1312.5 2339.6,1311.3 2339.6,1449.45" fill="#FF8800"/>
<path d="M411.6,1449.45V1448.79 H415.6V1448.81 H419.6V1448.53 H421.6V1449.45Z M425,1449.45V1448.87 H429V1448.75 H433V1448.83 H437V1449.04 H441V1448.9 H445V1448.9 H449V1448.78 H453V1448.93 H455V1449.45Z M466.4,1449.45V1448.53 H470.4V1448.55 H474.4V1448.67 H478.4V1448.24 H482.4V1448.65 H486.4V1448.2 H490.4V1448.66 H494.4V1448.8 H498.4V1448.73 H502.4V1448.5 H506V1449.45Z M509.6,1449.45V1448.52 H513.6V1448.94 H517.6V1448.73 H521.6V1448.73 H525.6V1448.6 H529.6V1448.87 H533.6V1448.73 H534.5V1449.45Z M755,1449.45V1448.62 H759V1448.24 H763V1448.5 H767V1448.05 H771V1448.58 H775V1448.7 H778.5V1449.45Z M888,1449.45V1448.64 H892V1448.73 H896V1448.9 H900V1448.67 H904V1448.91 H908V1448.61 H912V1448.47 H916V1448.24 H918V1449.45Z M1093,1449.45V1448.49 H1097V1448.59 H1101V1448.52 H1105V1448.48 H1109V1448.11 H1113V1448.59 H1117V1448.07 H1121V1448.69 H1125V1448.61 H1129V1448.62 H1133V1448.31 H1137V1448.57 H1139.6V1449.45Z M1162.8,1449.45V1448.58 H1166.8V1448.3 H1170.8V1448.66 H1174.8V1448.54 H1178.8V1448.5 H1182.8V1448.37 H1186V1449.45Z M1199,1449.45V1448.79 H1203V1448.82 H1207V1448.93 H1211V1448.93 H1215V1448.99 H1219V1448.76 H1223V1448.82 H1227V1448.79 H1231V1448.99 H1235V1448.9 H1236V1449.45Z M1315.6,1449.45V1448.36 H1319.6V1448.47 H1323.6V1448.72 H1327.6V1448.54 H1331.6V1448.3 H1335.6V1448.66 H1338.8V1449.45Z M1345.4,1449.45V1448.86 H1349.4V1448.82 H1353.4V1448.64 H1357.4V1448.58 H1361.4V1448.88 H1362V1449.45Z M1362,1449.45V1447.5 H1363.7V1447.09 H1365.4V1446.66 H1367.1V1446.09 H1368.8V1446.29 H1370.5V1446.02 H1372.2V1446.1 H1373.9V1445.07 H1375.6V1445.27 H1377.3V1445.98 H1379V1444.64 H1380.7V1445.57 H1382.4V1444.93 H1384.1V1443.73 H1385.8V1443.75 H1387.5V1443.58 H1389.2V1444.69 H1390.9V1445.74 H1392.6V1445.37 H1394.3V1446.12 H1396V1446.09 H1397.7V1445.98 H1399.4V1446.47 H1401.1V1446.16 H1402.8V1445.85 H1404.5V1446.06 H1406.2V1446.36 H1407.9V1446.4 H1409.6V1447.04 H1411.3V1447.68 H1413V1447.34 H1414.7V1447.43 H1416.4V1447.17 H1418.1V1447.01 H1419.8V1447.31 H1421.5V1447.17 H1423.2V1447 H1424.9V1447.2 H1426.6V1447.31 H1428.3V1446.9 H1430V1446.79 H1431.7V1446.94 H1433.4V1447.06 H1435.1V1447.02 H1436.8V1447.21 H1438.5V1447.3 H1440.2V1448.05 H1441.9V1448.22 H1443.6V1448 H1445.3V1448.46 H1447V1448.26 H1448.7V1448.04 H1450.4V1448.13 H1451.7V1449.45Z M1513,1449.45V1448.66 H1517V1448.81 H1521V1448.71 H1525V1448.67 H1529V1448.57 H1533V1448.65 H1537V1448.5 H1538V1449.45Z M1544.6,1449.45V1448.17 H1548.6V1448.62 H1552.6V1448.31 H1556.6V1448.22 H1560.6V1448.46 H1564.6V1448.38 H1568V1449.45Z M1601,1449.45V1448.48 H1605V1448.86 H1609V1448.54 H1613V1448.69 H1617V1448.26 H1621V1448.09 H1625V1448.43 H1629V1448.74 H1633V1448.54 H1637V1448.63 H1641V1448.61 H1644V1449.45Z M1749.6,1449.45V1448.35 H1751.3V1448.24 H1753V1448.09 H1754.7V1448.28 H1756.4V1448.33 H1758.1V1447.92 H1759.8V1448.44 H1761.5V1448.06 H1763.2V1448.26 H1764.9V1447.95 H1766.6V1448.43 H1768.3V1447.72 H1770V1448.2 H1771.7V1448.43 H1773.4V1448.23 H1775.1V1448.1 H1776.8V1447.75 H1778.5V1447.45 H1780.2V1447.42 H1781.9V1447.2 H1783.6V1447.41 H1785.3V1447.44 H1787V1447.44 H1788.7V1447.04 H1790.4V1446.86 H1792.1V1447.13 H1793.8V1447.41 H1795.5V1447.05 H1797.2V1447.38 H1798.9V1447.55 H1800.6V1447.65 H1802.3V1447.78 H1804V1447.8 H1805.7V1447.98 H1807.4V1448.15 H1809.1V1448.12 H1810.8V1448.41 H1812.5V1447.9 H1814.2V1448.38 H1815.9V1448.22 H1817.6V1448.14 H1819.3V1448.16 H1819.4V1449.45Z M1824,1449.45V1448.53 H1828V1448.63 H1832V1448.49 H1832.6V1449.45Z M1844,1449.45V1448.72 H1848V1448.33 H1852V1448.6 H1856V1448.32 H1860V1448.64 H1864V1448.58 H1868V1448.65 H1872V1448.56 H1872.5V1449.45Z M1872.5,1449.45V1448.98 H1876.5V1449.05 H1880.5V1448.8 H1884.5V1448.95 H1887V1449.45Z M1899,1449.45V1448.93 H1900.7V1448.86 H1902.4V1448.72 H1904.1V1448.68 H1905.8V1448.51 H1907.5V1448.43 H1909.2V1448.54 H1910.9V1448.12 H1912.6V1448.04 H1914.3V1448.51 H1916V1447.77 H1917.7V1447.05 H1919.4V1446.95 H1921.1V1447.27 H1922.8V1446.51 H1924.5V1446.46 H1926.2V1446.85 H1927.9V1446.69 H1929.6V1445.46 H1931.3V1445.85 H1933V1446.36 H1934.7V1446.58 H1936.4V1446.6 H1938.1V1446.58 H1939.8V1446.11 H1941.5V1446.58 H1943.2V1446.53 H1944.9V1445.45 H1946.6V1445.3 H1948.3V1445.97 H1950V1445.67 H1951.7V1446.36 H1953.4V1446.25 H1955.1V1446.4 H1956.8V1446.24 H1958.5V1446.39 H1960.2V1446.4 H1961.9V1447 H1963.6V1446.62 H1965.3V1446.81 H1967V1446.68 H1968.7V1446.98 H1970.4V1448.12 H1972V1449.45Z M2041.8,1449.45V1448.67 H2045.8V1448.74 H2049.8V1448.69 H2053.8V1448.69 H2057.8V1448.41 H2061.8V1448.69 H2065.8V1448.52 H2069.8V1448.77 H2073.8V1448.68 H2077.8V1448.73 H2078.3V1449.45Z M2095,1449.45V1448.86 H2099V1448.75 H2103V1449.04 H2107V1448.76 H2111V1448.89 H2115V1448.85 H2119V1448.82 H2119.8V1449.45Z M2124.8,1449.45V1448.76 H2128.8V1448.92 H2132.8V1448.9 H2136.8V1448.71 H2140.8V1449.02 H2144.8V1448.83 H2148.8V1448.83 H2149.7V1449.45Z M2174.6,1449.45V1448.76 H2176.3V1448.38 H2178V1448.29 H2179.7V1448.08 H2181.4V1448.44 H2183.1V1447.94 H2184.8V1448.23 H2186.5V1448.2 H2188.2V1447.84 H2189.9V1448.48 H2191.6V1447.88 H2193.3V1447.91 H2195V1447.55 H2196.7V1447.22 H2198.4V1447.54 H2200.1V1447.47 H2201.8V1447.43 H2203.5V1447.28 H2205.2V1447.64 H2206.9V1447.49 H2208.6V1447.5 H2210.3V1447.97 H2212V1447.78 H2213.7V1448.26 H2215.4V1447.86 H2217.1V1448.23 H2218.8V1448.19 H2220.5V1448.4 H2222.2V1448.26 H2223.9V1447.98 H2225.6V1448.24 H2227.3V1448.19 H2229V1448.52 H2230.7V1448.56 H2232.4V1448.6 H2234.1V1448.46 H2234.4V1449.45Z" fill="#FF8800"/>
<path d="M410.2,1411.8 C410.2,1356.2 918,1346.8 918,1402.4" fill="none" stroke="#FF8800" stroke-width="5.58"/>
<path d="M958.4,1417 C958.4,1363 2301.5,1371 2301.5,1425" fill="none" stroke="#FF8800" stroke-width="0.82"/>
<path d="M1487.8,1426.5 C1487.8,1369.77 2301.5,1368.27 2301.5,1425" fill="none" stroke="#FF8800" stroke-width="4.5"/>
</g>
<path d="M400,1449.28 H2339.5" stroke="#FF8800" stroke-width="0.34" fill="none"/>
<rect x="607.3" y="1324.2" width="113.6" height="82.4" fill="#fff"/>
<clipPath id="seam4_0"><path clip-rule="evenodd" d="M612.4,1329.3 h103.4 v72.2 h-103.4 Z M613.4,1330.3 h101.4 v70.2 h-101.4 Z"/></clipPath>
<use href="#cov4" clip-path="url(#seam4_0)" opacity="0.4"/>
<text transform="translate(664.1 1374.35) scale(1 1)" font-size="33.33" text-anchor="middle" fill="#000" stroke="#000" stroke-width="0.4">104</text>
<rect x="1594.35" y="1339.3" width="71.2" height="82.4" fill="#fff"/>
<clipPath id="seam4_1"><path clip-rule="evenodd" d="M1599.45,1344.4 h61 v72.2 h-61 Z M1600.45,1345.4 h59 v70.2 h-59 Z"/></clipPath>
<use href="#cov4" clip-path="url(#seam4_1)" opacity="0.4"/>
<text transform="translate(1629.95 1389.45) scale(1 1)" font-size="33.33" text-anchor="middle" fill="#000" stroke="#000" stroke-width="0.4">2</text>
<rect x="1848.45" y="1342" width="92.4" height="82.4" fill="#fff"/>
<clipPath id="seam4_2"><path clip-rule="evenodd" d="M1853.55,1347.1 h82.2 v72.2 h-82.2 Z M1854.55,1348.1 h80.2 v70.2 h-80.2 Z"/></clipPath>
<use href="#cov4" clip-path="url(#seam4_2)" opacity="0.4"/>
<text transform="translate(1894.65 1392.15) scale(1 1)" font-size="33.33" text-anchor="middle" fill="#000" stroke="#000" stroke-width="0.4">61</text>
<text transform="translate(2338.5 1284.45) scale(1 1)" font-size="44.5" text-anchor="end" fill="#FF8800" stroke="#FF8800" stroke-width="0.4">AP000275.65 CCAR1_K562_2015-8-18_KD/KO-2 IncLevel: 0.44</text>
<path d="M400,1269.93 V1451.67" stroke="#000" stroke-width="4.44" fill="none"/>
<path d="M380.56,1272.15 H400" stroke="#000" stroke-width="4.44" fill="none"/>
<text transform="translate(360.2 1289.15) scale(1 1)" font-size="44.44" text-anchor="end" fill="#000" stroke="#000" stroke-width="0.4">167</text>
<path d="M380.56,1316.48 H400" stroke="#000" stroke-width="4.44" fill="none"/>
<text transform="translate(360.2 1333.48) scale(1 1)" font-size="44.44" text-anchor="end" fill="#000" stroke="#000" stroke-width="0.4">125.2</text>
<path d="M380.56,1360.8 H400" stroke="#000" stroke-width="4.44" fill="none"/>
<text transform="translate(360.2 1377.8) scale(1 1)" font-size="44.44" text-anchor="end" fill="#000" stroke="#000" stroke-width="0.4">83.5</text>
<path d="M380.56,1405.12 H400" stroke="#000" stroke-width="4.44" fill="none"/>
<text transform="translate(360.2 1422.12) scale(1 1)" font-size="44.44" text-anchor="end" fill="#000" stroke="#000" stroke-width="0.4">41.8</text>
<path d="M380.56,1449.45 H400" stroke="#000" stroke-width="4.44" fill="none"/>
<text transform="translate(203.2 1414.35) rotate(-90) scale(1 1)" font-size="44.44" fill="#000" stroke="#000" stroke-width="0.4">RPKM</text>
</g>
<g id="xaxis">
<path d="M397.78,1555.83 H2341.72" stroke="#000" stroke-width="4.44" fill="none"/>
<path d="M400,1555.83 v19.44" stroke="#000" stroke-width="4.44" fill="none"/>
<text transform="translate(400 1619.8) scale(1 1)" font-size="35.56" text-anchor="middle" fill="#000" stroke="#000" stroke-width="0.4">33984457</text>
<path d="M787.9,1555.83 v19.44" stroke="#000" stroke-width="4.44" fill="none"/>
<text transform="translate(787.9 1619.8) scale(1 1)" font-size="35.56" text-anchor="middle" fill="#000" stroke="#000" stroke-width="0.4">33982853</text>
<path d="M1175.8,1555.83 v19.44" stroke="#000" stroke-width="4.44" fill="none"/>
<text transform="translate(1175.8 1619.8) scale(1 1)" font-size="35.56" text-anchor="middle" fill="#000" stroke="#000" stroke-width="0.4">33981249</text>
<path d="M1563.7,1555.83 v19.44" stroke="#000" stroke-width="4.44" fill="none"/>
<text transform="translate(1563.7 1619.8) scale(1 1)" font-size="35.56" text-anchor="middle" fill="#000" stroke="#000" stroke-width="0.4">33979645</text>
<path d="M1951.6,1555.83 v19.44" stroke="#000" stroke-width="4.44" fill="none"/>
<text transform="translate(1951.6 1619.8) scale(1 1)" font-size="35.56" text-anchor="middle" fill="#000" stroke="#000" stroke-width="0.4">33978041</text>
<path d="M2339.5,1555.83 v19.44" stroke="#000" stroke-width="4.44" fill="none"/>
<text transform="translate(2339.5 1619.8) scale(1 1)" font-size="35.56" text-anchor="middle" fill="#000" stroke="#000" stroke-width="0.4">33976437</text>
<text transform="translate(1369.75 1682.7) scale(1 1)" font-size="44.54" text-anchor="middle" fill="#000" stroke="#000" stroke-width="0.4">Genomic coordinate (chr21), &quot;-&quot; strand</text>
</g>
<g id="genes">
<path d="M401,2194.12 H2339.5" stroke="#000" stroke-width="3.1" fill="none"/>
<path d="M431.03,2182.21 L438.79,2194.12 L431.03,2206.04 M469.82,2182.21 L477.58,2194.12 L469.82,2206.04 M508.61,2182.21 L516.37,2194.12 L508.61,2206.04 M547.4,2182.21 L555.16,2194.12 L547.4,2206.04 M586.19,2182.21 L593.95,2194.12 L586.19,2206.04 M624.98,2182.21 L632.74,2194.12 L624.98,2206.04 M663.77,2182.21 L671.53,2194.12 L663.77,2206.04 M702.56,2182.21 L710.32,2194.12 L702.56,2206.04 M741.35,2182.21 L749.11,2194.12 L741.35,2206.04 M780.14,2182.21 L787.9,2194.12 L780.14,2206.04 M818.93,2182.21 L826.69,2194.12 L818.93,2206.04 M857.72,2182.21 L865.48,2194.12 L857.72,2206.04 M896.51,2182.21 L904.27,2194.12 L896.51,2206.04 M935.3,2182.21 L943.06,2194.12 L935.3,2206.04 M974.09,2182.21 L981.85,2194.12 L974.09,2206.04 M1012.88,2182.21 L1020.64,2194.12 L1012.88,2206.04 M1051.67,2182.21 L1059.43,2194.12 L1051.67,2206.04 M1090.46,2182.21 L1098.22,2194.12 L1090.46,2206.04 M1129.25,2182.21 L1137.01,2194.12 L1129.25,2206.04 M1168.04,2182.21 L1175.8,2194.12 L1168.04,2206.04 M1206.83,2182.21 L1214.59,2194.12 L1206.83,2206.04 M1245.62,2182.21 L1253.38,2194.12 L1245.62,2206.04 M1284.41,2182.21 L1292.17,2194.12 L1284.41,2206.04 M1323.2,2182.21 L1330.96,2194.12 L1323.2,2206.04 M1361.99,2182.21 L1369.75,2194.12 L1361.99,2206.04 M1400.78,2182.21 L1408.54,2194.12 L1400.78,2206.04 M1439.57,2182.21 L1447.33,2194.12 L1439.57,2206.04 M1478.36,2182.21 L1486.12,2194.12 L1478.36,2206.04 M1517.15,2182.21 L1524.91,2194.12 L1517.15,2206.04 M1555.94,2182.21 L1563.7,2194.12 L1555.94,2206.04 M1594.73,2182.21 L1602.49,2194.12 L1594.73,2206.04 M1633.52,2182.21 L1641.28,2194.12 L1633.52,2206.04 M1672.31,2182.21 L1680.07,2194.12 L1672.31,2206.04 M1711.1,2182.21 L1718.86,2194.12 L1711.1,2206.04 M1749.89,2182.21 L1757.65,2194.12 L1749.89,2206.04 M1788.68,2182.21 L1796.44,2194.12 L1788.68,2206.04 M1827.47,2182.21 L1835.23,2194.12 L1827.47,2206.04 M1866.26,2182.21 L1874.02,2194.12 L1866.26,2206.04 M1905.05,2182.21 L1912.81,2194.12 L1905.05,2206.04 M1943.84,2182.21 L1951.6,2194.12 L1943.84,2206.04 M1982.63,2182.21 L1990.39,2194.12 L1982.63,2206.04 M2021.42,2182.21 L2029.18,2194.12 L2021.42,2206.04 M2060.21,2182.21 L2067.97,2194.12 L2060.21,2206.04 M2099,2182.21 L2106.76,2194.12 L2099,2206.04 M2137.79,2182.21 L2145.55,2194.12 L2137.79,2206.04 M2176.58,2182.21 L2184.34,2194.12 L2176.58,2206.04 M2215.37,2182.21 L2223.13,2194.12 L2215.37,2206.04 M2254.16,2182.21 L2261.92,2194.12 L2254.16,2206.04 M2292.95,2182.21 L2300.71,2194.12 L2292.95,2206.04" fill="none" stroke="#000" stroke-width="3" stroke-linecap="square" stroke-linejoin="miter"/>
<rect x="400.2" y="2164.34" width="10" height="59.58" fill="#000"/>
<rect x="918" y="2164.34" width="40.4" height="59.58" fill="#000"/>
<rect x="2301.5" y="2164.34" width="38.1" height="59.58" fill="#000"/>
<path d="M401,2392.71 H2339.5" stroke="#000" stroke-width="3.1" fill="none"/>
<path d="M431.03,2380.79 L438.79,2392.71 L431.03,2404.62 M469.82,2380.79 L477.58,2392.71 L469.82,2404.62 M508.61,2380.79 L516.37,2392.71 L508.61,2404.62 M547.4,2380.79 L555.16,2392.71 L547.4,2404.62 M586.19,2380.79 L593.95,2392.71 L586.19,2404.62 M624.98,2380.79 L632.74,2392.71 L624.98,2404.62 M663.77,2380.79 L671.53,2392.71 L663.77,2404.62 M702.56,2380.79 L710.32,2392.71 L702.56,2404.62 M741.35,2380.79 L749.11,2392.71 L741.35,2404.62 M780.14,2380.79 L787.9,2392.71 L780.14,2404.62 M818.93,2380.79 L826.69,2392.71 L818.93,2404.62 M857.72,2380.79 L865.48,2392.71 L857.72,2404.62 M896.51,2380.79 L904.27,2392.71 L896.51,2404.62 M935.3,2380.79 L943.06,2392.71 L935.3,2404.62 M974.09,2380.79 L981.85,2392.71 L974.09,2404.62 M1012.88,2380.79 L1020.64,2392.71 L1012.88,2404.62 M1051.67,2380.79 L1059.43,2392.71 L1051.67,2404.62 M1090.46,2380.79 L1098.22,2392.71 L1090.46,2404.62 M1129.25,2380.79 L1137.01,2392.71 L1129.25,2404.62 M1168.04,2380.79 L1175.8,2392.71 L1168.04,2404.62 M1206.83,2380.79 L1214.59,2392.71 L1206.83,2404.62 M1245.62,2380.79 L1253.38,2392.71 L1245.62,2404.62 M1284.41,2380.79 L1292.17,2392.71 L1284.41,2404.62 M1323.2,2380.79 L1330.96,2392.71 L1323.2,2404.62 M1361.99,2380.79 L1369.75,2392.71 L1361.99,2404.62 M1400.78,2380.79 L1408.54,2392.71 L1400.78,2404.62 M1439.57,2380.79 L1447.33,2392.71 L1439.57,2404.62 M1478.36,2380.79 L1486.12,2392.71 L1478.36,2404.62 M1517.15,2380.79 L1524.91,2392.71 L1517.15,2404.62 M1555.94,2380.79 L1563.7,2392.71 L1555.94,2404.62 M1594.73,2380.79 L1602.49,2392.71 L1594.73,2404.62 M1633.52,2380.79 L1641.28,2392.71 L1633.52,2404.62 M1672.31,2380.79 L1680.07,2392.71 L1672.31,2404.62 M1711.1,2380.79 L1718.86,2392.71 L1711.1,2404.62 M1749.89,2380.79 L1757.65,2392.71 L1749.89,2404.62 M1788.68,2380.79 L1796.44,2392.71 L1788.68,2404.62 M1827.47,2380.79 L1835.23,2392.71 L1827.47,2404.62 M1866.26,2380.79 L1874.02,2392.71 L1866.26,2404.62 M1905.05,2380.79 L1912.81,2392.71 L1905.05,2404.62 M1943.84,2380.79 L1951.6,2392.71 L1943.84,2404.62 M1982.63,2380.79 L1990.39,2392.71 L1982.63,2404.62 M2021.42,2380.79 L2029.18,2392.71 L2021.42,2404.62 M2060.21,2380.79 L2067.97,2392.71 L2060.21,2404.62 M2099,2380.79 L2106.76,2392.71 L2099,2404.62 M2137.79,2380.79 L2145.55,2392.71 L2137.79,2404.62 M2176.58,2380.79 L2184.34,2392.71 L2176.58,2404.62 M2215.37,2380.79 L2223.13,2392.71 L2215.37,2404.62 M2254.16,2380.79 L2261.92,2392.71 L2254.16,2404.62 M2292.95,2380.79 L2300.71,2392.71 L2292.95,2404.62" fill="none" stroke="#000" stroke-width="3" stroke-linecap="square" stroke-linejoin="miter"/>
<rect x="400.2" y="2362.92" width="10" height="59.58" fill="#000"/>
<rect x="1471.6" y="2362.92" width="16.2" height="59.58" fill="#000"/>
<rect x="2301.5" y="2362.92" width="38.1" height="59.58" fill="#000"/>
</g>
</svg>
</body></html>
